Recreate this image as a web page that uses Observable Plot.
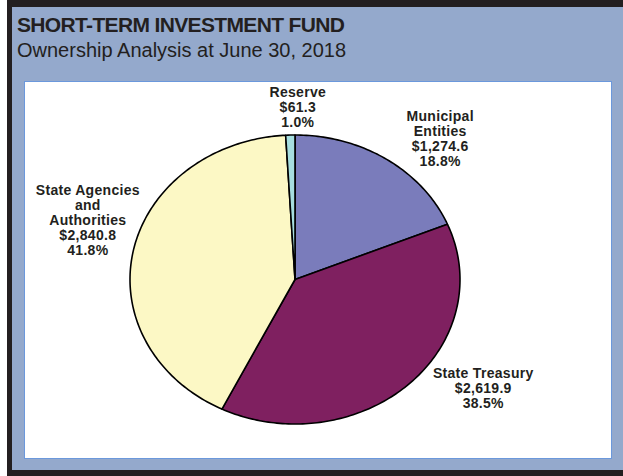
<!DOCTYPE html>
<html>
<head>
<meta charset="utf-8">
<script src="https://cdn.jsdelivr.net/npm/d3@7"></script>
<script src="https://cdn.jsdelivr.net/npm/@observablehq/plot@0.6"></script>
<style>
  html, body { margin: 0; padding: 0; background: #ffffff; width: 623px; height: 476px; overflow: hidden; }
  #frame { position: absolute; left: 7px; top: 0px; width: 640px; height: 476px; background: #231f20; }
  #blue { position: absolute; left: 12px; top: 7px; width: 640px; height: 463px; background: #94a9cc; }
  #title { position: absolute; left: 17px; top: 14px; font-family: "Liberation Sans", Arial, sans-serif; font-weight: bold; font-size: 21px; letter-spacing: -0.65px; color: #231f20; white-space: nowrap; line-height: 1; }
  #subtitle { position: absolute; left: 17px; top: 40px; font-family: "Liberation Sans", Arial, sans-serif; font-size: 20px; color: #231f20; white-space: nowrap; line-height: 1; }
  #panel { position: absolute; left: 24px; top: 81px; width: 586px; height: 376px; background: #ffffff; border: 1px solid #6b98dc; }
  #panel svg text { letter-spacing: 0.3px; }
</style>
</head>
<body>
<div id="frame"></div>
<div id="blue"></div>
<div id="title">SHORT-TERM INVESTMENT FUND</div>
<div id="subtitle">Ownership Analysis at June 30, 2018</div>
<div id="panel"></div>
<script>
// ---- data ----
const categories = ["Municipal\nEntities", "State Treasury", "State Agencies\nand\nAuthorities", "Reserve"];
const amounts = [1274.6, 2619.9, 2840.8, 61.3];           // $ millions
const percentLabels = ["18.8%", "38.5%", "41.8%", "1.0%"];
const sliceColors = ["#7a7cbb", "#7f2060", "#fcf8c5", "#a6dedf"];

// ---- label layout (pixel offsets from slice mid-point on the rim) ----
const labelOffsets = [[53, -21], [75, 3], [-46, -31], [7, -28]];

// ---- build slices ----
const total = d3.sum(amounts);
let cum = 0;
const slices = amounts.map((v, i) => {
  const a0 = cum / total * 2 * Math.PI;
  cum += v;
  const a1 = cum / total * 2 * Math.PI;
  return {name: categories[i], value: v, a0, a1, mid: (a0 + a1) / 2, i};
});

const pts = [];
for (const s of slices) {
  const n = Math.max(2, Math.ceil((s.a1 - s.a0) / (Math.PI / 180)));
  for (let k = 0; k <= n; k++) {
    const a = s.a0 + (s.a1 - s.a0) * k / n;
    pts.push({name: s.name, x: Math.sin(a), y: Math.cos(a)});
  }
}

const fmt = d3.format("$,.1f");
const labelMarks = slices.map((s, i) => Plot.text([s], {
  x: d => Math.sin(d.mid),
  y: d => Math.cos(d.mid),
  text: d => `${d.name}\n${fmt(d.value)}\n${percentLabels[d.i]}`,
  dx: labelOffsets[i][0],
  dy: labelOffsets[i][1],
  lineAnchor: "middle",
  lineHeight: 1.07,
  fontSize: 14,
  fontWeight: "bold",
  fontFamily: "Liberation Sans, Arial, sans-serif",
  fill: "#231f20",
  textAnchor: "middle"
}));

const chart = Plot.plot({
  width: 586,
  height: 376,
  margin: 0,
  x: {domain: [-1, 1], range: [105, 435], axis: null},
  y: {domain: [-1, 1], range: [342, 53], axis: null},
  color: {domain: categories, range: sliceColors},
  style: {background: "transparent", overflow: "visible"},
  marks: [
    Plot.area(pts, {
      x1: () => 0, y1: () => 0, x2: "x", y2: "y",
      z: "name", fill: "name",
      stroke: "#000000", strokeWidth: 1.6, strokeLinejoin: "round",
      curve: "linear"
    }),
    ...labelMarks
  ]
});
document.getElementById("panel").appendChild(chart);
</script>
</body>
</html>
